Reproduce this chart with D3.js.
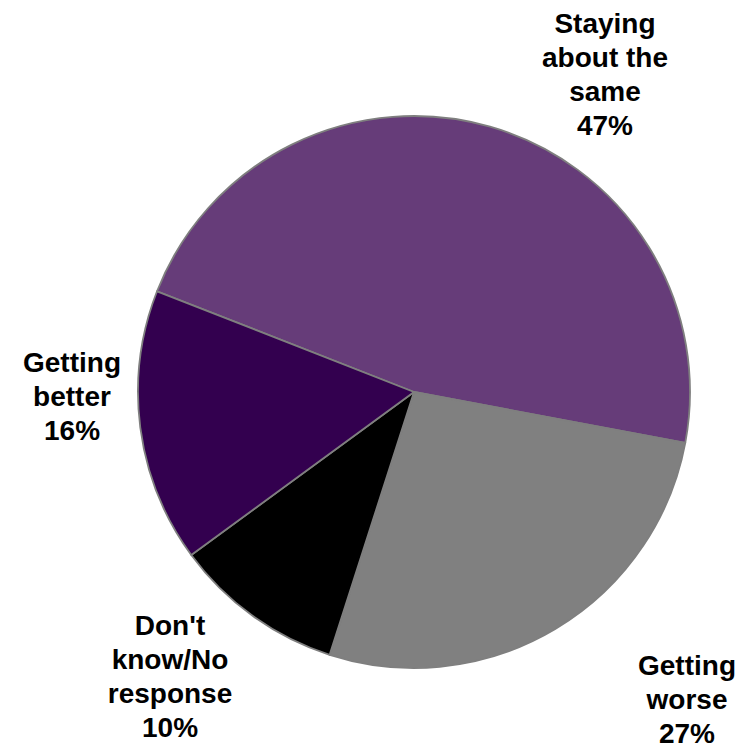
<!DOCTYPE html>
<html>
<head>
<meta charset="utf-8">
<script src="https://cdn.jsdelivr.net/npm/d3@7"></script>
<style>
  html, body { margin: 0; padding: 0; background: #ffffff; }
  svg { display: block; }
</style>
</head>
<body>
<svg id="chart" width="749" height="749"></svg>
<script>
// Survey responses, in the order they run clockwise around the pie
const categories = ["Staying about the same", "Getting worse", "Don't know/No response", "Getting better"];
const values = [47, 27, 10, 16];
const labelLines = [
  ["Staying", "about the", "same"],
  ["Getting", "worse"],
  ["Don't", "know/No", "response"],
  ["Getting", "better"]
];
const sliceColors = ["#663c79", "#808080", "#000000", "#33004f"];

const width = 749, height = 749;
const cx = 414, cy = 392, radius = 276;
const startDeg = -68.6;

// Label block anchors: horizontal centre and baseline of the last line, relative to the pie centre
const labelAnchor = [
  { dx: 191, dy: -257 },
  { dx: 273, dy: 351 },
  { dx: -244, dy: 345 },
  { dx: -342, dy: 48 }
];
const lineHeight = 34;

const svg = d3.select("#chart");
const g = svg.append("g").attr("transform", `translate(${cx},${cy})`);

const start = startDeg * Math.PI / 180;
const pie = d3.pie().sort(null).value(d => d)
  .startAngle(start).endAngle(start + 2 * Math.PI);
const arcs = pie(values);
const arc = d3.arc().innerRadius(0).outerRadius(radius);

const color = d3.scaleOrdinal().domain(categories).range(sliceColors);

g.selectAll("path.slice")
  .data(arcs)
  .join("path")
  .attr("class", "slice")
  .attr("d", arc)
  .attr("fill", (d, i) => color(categories[i]))
  .attr("stroke", "#7f7f7f")
  .attr("stroke-width", 1.8)
  .attr("stroke-linejoin", "round");

const fmt = d => `${d}%`;

const labels = g.selectAll("text.label")
  .data(arcs)
  .join("text")
  .attr("class", "label")
  .attr("text-anchor", "middle")
  .attr("font-family", "'Liberation Sans', Arial, sans-serif")
  .attr("font-weight", "bold")
  .attr("font-size", 28)
  .attr("fill", "#000000");

labels.each(function (d, i) {
  const lines = labelLines[i].concat([fmt(d.data)]);
  const a = labelAnchor[i];
  const firstY = a.dy - (lines.length - 1) * lineHeight;
  d3.select(this).selectAll("tspan")
    .data(lines)
    .join("tspan")
    .attr("x", a.dx)
    .attr("y", (t, k) => firstY + k * lineHeight)
    .text(t => t);
});
</script>
</body>
</html>
